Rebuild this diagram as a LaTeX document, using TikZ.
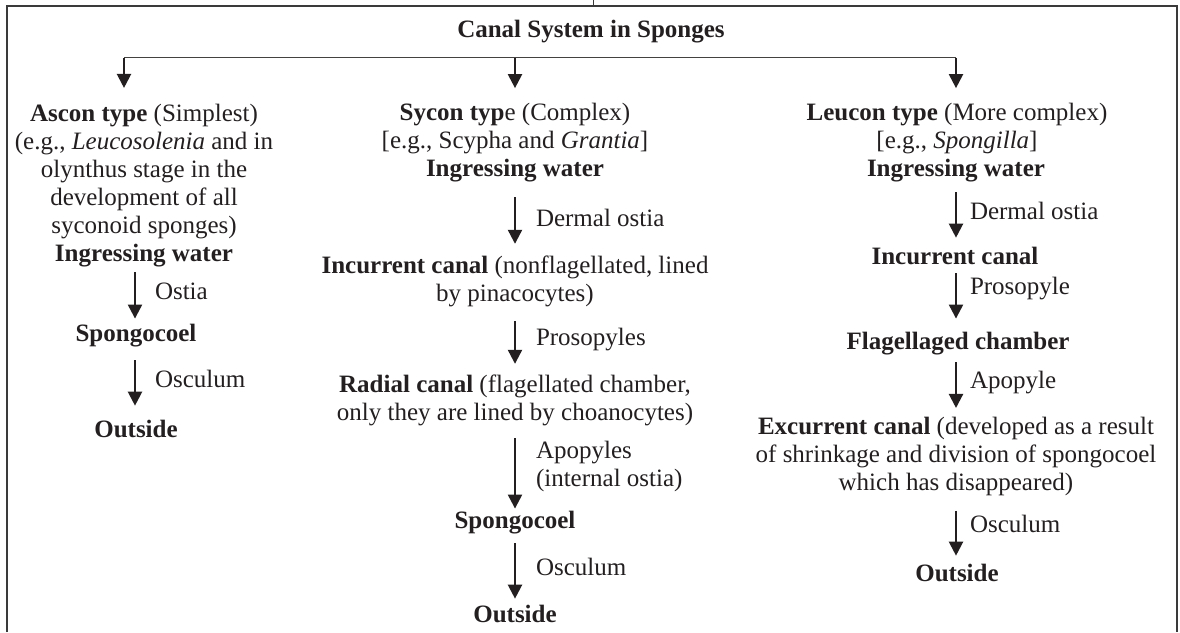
\documentclass[tikz,border=0pt]{standalone}
\usepackage{fontspec}
\setmainfont{Liberation Serif}
\usetikzlibrary{arrows.meta,calc}
\definecolor{ink}{HTML}{231F20}
\definecolor{framec}{HTML}{3A3A3A}
\begin{document}
\begin{tikzpicture}[x=1pt,y=-1pt,
  txt/.style={inner sep=0pt,outer sep=0pt,align=center,text=ink,font=\fontsize{25}{28}\selectfont},
  lab/.style={inner sep=0pt,outer sep=0pt,align=left,anchor=west,text=ink,font=\fontsize{25}{28}\selectfont},
  arr/.style={draw=ink,line width=2.2pt,-{Triangle[width=14pt,length=14pt]}},
  barline/.style={draw=ink!85,line width=1.4pt},
  framel/.style={draw=framec,line width=1.5pt}]
\useasboundingbox (0,0) rectangle (1180,632);
% frame
\draw[framel] (7,632) -- (7,6) -- (1177,6) -- (1177,632);
\draw[draw=framec,line width=1pt] (593,0) -- (593,6);
% title
\node[txt] (title) at (591,32) {\textbf{Canal System in Sponges}};
% Ascon column
\node[txt] (as1) at (144,172) {\textbf{Ascon type} (Simplest)\\(e.g., \textit{Leucosolenia} and in\\olynthus stage in the\\development of all\\syconoid sponges)};
\node[txt] (as2) at (144,256) {\textbf{Ingressing water}};
\node[txt] (as3) at (136,336) {\textbf{Spongocoel}};
\node[txt] (as4) at (136,429) {\textbf{Outside}};
% Sycon column
\node[txt] (sy1) at (515,128.5) {\textbf{Sycon typ}e (Complex)\\{[}e.g., Scypha and \textit{Grantia}]};
\node[txt] (sy2) at (515,171) {\textbf{Ingressing water}};
\node[txt] (sy3) at (515,281) {\textbf{Incurrent canal} (nonflagellated, lined\\by pinacocytes)};
\node[txt] (sy4) at (515,400) {\textbf{Radial canal} (flagellated chamber,\\only they are lined by choanocytes)};
\node[txt] (sy5) at (515,523) {\textbf{Spongocoel}};
\node[txt] (sy6) at (515,614) {\textbf{Outside}};
% Leucon column
\node[txt] (le1) at (957,128.5) {\textbf{Leucon type} (More complex)\\{[}e.g., \textit{Spongilla}]};
\node[txt] (le2) at (956,171) {\textbf{Ingressing water}};
\node[txt] (le3) at (955,256) {\textbf{Incurrent canal}};
\node[txt] (le4) at (958,344) {\textbf{Flagellaged chamber}};
\node[txt] (le5) at (956,456) {\textbf{Excurrent canal} (developed as a result\\of shrinkage and division of spongocoel\\which has disappeared)};
\node[txt] (le6) at (957,573) {\textbf{Outside}};
% top bar
\coordinate (bL) at (124,57.5);
\coordinate (bM) at (515,57.5);
\coordinate (bR) at (956,57.5);
\draw[barline] (bL) -- (bR);
\draw[arr] (bL) -- ($(bL |- as1.north)+(0,-16.7)$);
\draw[arr] (bM) -- ($(sy1.north)+(0,-15)$);
\draw[arr] (bR) -- ($(bR |- le1.north)+(0,-15)$);
% Ascon arrows
\draw[arr] ($(as3.north |- as2.south)+(-1,5)$) -- ($(as3.north)+(-1,-6)$)
  node[lab,pos=0.4,xshift=20pt] (asl1) {Ostia};
\draw[arr] ($(as3.south)+(-1,13)$) -- ($(as4.north)+(-1,-14.5)$)
  node[lab,pos=0.4,xshift=20pt] (asl2) {Osculum};
% Sycon arrows
\draw[arr] ($(sy2.south)+(0,15)$) -- ($(sy3.north)+(0,-11.7)$)
  node[lab,pos=0.45,xshift=21pt] (syl1) {Dermal ostia};
\draw[arr] ($(sy3.south)+(0,14.6)$) -- ($(sy4.north)+(0,-10.7)$)
  node[lab,pos=0.43,xshift=21pt] (syl2) {Prosopyles};
\draw[arr] ($(sy4.south)+(0,12.6)$) -- ($(sy5.north)+(0,-3)$)
  node[lab,pos=0.4,xshift=21pt] (syl3) {Apopyles\\(internal ostia)};
\draw[arr] ($(sy5.south)+(0,9)$) -- ($(sy6.north)+(0,-6.5)$)
  node[lab,pos=0.43,xshift=21pt] (syl4) {Osculum};
% Leucon arrows
\draw[arr] ($(le2.south)+(0,10)$) -- ($(le2.south |- le3.north)+(0,-9.5)$)
  node[lab,pos=0.4,xshift=14pt] (lel1) {Dermal ostia};
\draw[arr] ($(le2.south |- le3.south)+(0,8.5)$) -- ($(le2.south |- le4.north)+(0,-14)$)
  node[lab,pos=0.33,xshift=14pt] (lel2) {Prosopyle};
\draw[arr] ($(le2.south |- le4.south)+(0,7)$) -- ($(le2.south |- le5.north)+(0,-8.7)$)
  node[lab,pos=0.44,xshift=14pt] (lel3) {Apopyle};
\draw[arr] ($(le2.south |- le5.south)+(0,15.6)$) -- ($(le2.south |- le6.north)+(0,-8.5)$)
  node[lab,pos=0.3,xshift=14pt] (lel4) {Osculum};
\end{tikzpicture}
\end{document}
